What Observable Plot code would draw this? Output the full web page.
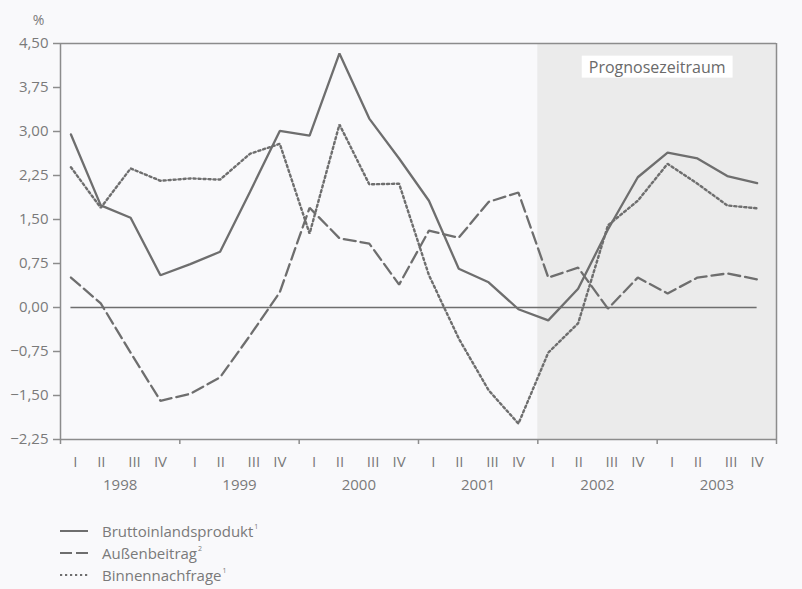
<!DOCTYPE html>
<html>
<head>
<meta charset="utf-8">
<script src="https://cdn.jsdelivr.net/npm/d3@7"></script>
<script src="https://cdn.jsdelivr.net/npm/@observablehq/plot@0.6"></script>
<style>
  html, body { margin: 0; padding: 0; background: #f9f9fb; }
  body { width: 802px; height: 589px; overflow: hidden; font-family: "Open Sans", sans-serif; color: #7a7a7a; }
  #legend { margin-left: 60px; margin-top: 20px; }
  .row { display: flex; align-items: center; height: 22px; font-size: 15px; }
  .row svg { margin-right: 14px; }
  .row sup { font-size: 7px; vertical-align: 8px; margin-left: 1px; }
</style>
</head>
<body>
<div id="chart"></div>
<div id="legend"></div>
<script>
// ---------- data ----------
const quarters = ["I", "II", "III", "IV"];
const years = ["1998", "1999", "2000", "2001", "2002", "2003"];
const seriesNames = ["Bruttoinlandsprodukt", "Außenbeitrag", "Binnennachfrage"];
const footnotes = ["1", "2", "1"];
const bip    = [2.95, 1.74, 1.53, 0.55, 0.74, 0.95, 1.97, 3.01, 2.93, 4.33, 3.22, 2.54, 1.82, 0.66, 0.43, -0.03, -0.22, 0.32, 1.33, 2.22, 2.64, 2.54, 2.24, 2.12];
const aussen = [0.51, 0.07, -0.77, -1.59, -1.47, -1.19, -0.48, 0.26, 1.70, 1.18, 1.09, 0.39, 1.31, 1.19, 1.80, 1.96, 0.51, 0.68, -0.02, 0.51, 0.24, 0.51, 0.58, 0.48];
const binnen = [2.39, 1.70, 2.37, 2.16, 2.20, 2.18, 2.62, 2.79, 1.26, 3.12, 2.10, 2.11, 0.55, -0.53, -1.41, -1.98, -0.77, -0.27, 1.40, 1.82, 2.45, 2.11, 1.74, 1.69];
const yTicks = [-2.25, -1.5, -0.75, 0, 0.75, 1.5, 2.25, 3, 3.75, 4.5];
const forecastStartYear = "2002";
const forecastLabel = "Prognosezeitraum";
const unitLabel = "%";

// ---------- layout / style ----------
const lineColor = "#6e6e6e";
const axisColor = "#8c8c8c";
const textColor = "#7a7a7a";
const pointOffset = 0.35;               // point position within a quarter slot
const qLabelPos = [0.5, 1.37, 2.48, 3.35]; // label position within a year (quarter units)
const dashes = ["none", "12,5", "2.2,2.8"];
const widths = [2.3, 2.3, 2.4];

const nQ = years.length * quarters.length;
const yMin = yTicks[0], yMax = yTicks[yTicks.length - 1];
const fmt = d => d3.format(".2f")(d).replace(".", ",");

const seriesValues = [bip, aussen, binnen];
const rows = [];
seriesValues.forEach((vals, s) => vals.forEach((v, i) => rows.push({series: seriesNames[s], i, value: v})));

const quarterRows = [];
years.forEach((y, yi) => quarters.forEach((q, qi) => quarterRows.push({year: y, yi, q, qi})));

const fStart = years.indexOf(forecastStartYear) * 4;

const plot = Plot.plot({
  width: 802,
  height: 500,
  marginLeft: 60,
  marginRight: 26,
  marginTop: 43,
  marginBottom: 61,
  style: {fontFamily: "Open Sans", fontSize: "15px", color: textColor, background: "transparent"},
  x: {type: "linear", domain: [0, nQ], axis: null},
  y: {domain: [yMin, yMax], axis: null},
  marks: [
    // forecast shading
    Plot.rect([{x1: fStart, x2: nQ}], {x1: "x1", x2: "x2", y1: yMin, y2: yMax, fill: "#ebebeb"}),
    // frame
    Plot.ruleY([yMax], {stroke: axisColor, strokeWidth: 1.5}),
    Plot.ruleY([yMin], {stroke: axisColor, strokeWidth: 1.5}),
    Plot.ruleX([0], {stroke: axisColor, strokeWidth: 1.5}),
    Plot.ruleX([nQ], {stroke: axisColor, strokeWidth: 1.5}),
    // zero line across data range
    Plot.ruleY([0], {x1: pointOffset, x2: nQ - 1 + pointOffset, stroke: lineColor, strokeWidth: 1.5}),
    // y axis
    Plot.axisY(yTicks, {tickFormat: fmt, tickSize: 7, tickPadding: 5, stroke: axisColor, strokeWidth: 1.5, fill: textColor, label: null}),
    // x axis year ticks
    Plot.axisX(d3.range(0, nQ + 1, 4), {tickSize: 5, tickFormat: () => "", stroke: axisColor, strokeWidth: 1.5, label: null}),
    // quarter labels
    Plot.text(quarterRows, {x: d => d.yi * 4 + qLabelPos[d.qi], y: yMin, dy: 23, text: "q", fill: textColor}),
    // year labels
    Plot.text(years, {x: (d, i) => i * 4 + 2, y: yMin, dy: 46, text: d => d, fill: textColor}),
    // unit label
    Plot.text([unitLabel], {x: 0, y: yMax, dx: -22, dy: -23, text: d => d, fill: textColor, fontSize: 14}),
    // forecast label
    Plot.text([forecastLabel], {x: (fStart + nQ) / 2, frameAnchor: "top", lineAnchor: "middle", dy: 24, text: d => d, fill: "#6a6a6a", fontSize: 16}),
    // series lines
    ...seriesNames.map((name, s) =>
      Plot.line(rows.filter(r => r.series === name), {
        x: d => d.i + pointOffset, y: "value",
        stroke: lineColor, strokeWidth: widths[s], strokeDasharray: dashes[s], strokeLinejoin: "miter"
      })
    )
  ]
});

document.getElementById("chart").appendChild(plot);

// white box behind forecast label
const t = Array.from(plot.querySelectorAll("text")).find(el => el.textContent === forecastLabel);
if (t) {
  const bb = t.getBBox();
  const rect = document.createElementNS("http://www.w3.org/2000/svg", "rect");
  rect.setAttribute("x", bb.x - 7);
  rect.setAttribute("y", bb.y);
  rect.setAttribute("width", bb.width + 14);
  rect.setAttribute("height", bb.height);
  rect.setAttribute("fill", "#ffffff");
  rect.setAttribute("stroke", "none");
  const tr = t.getAttribute("transform");
  if (tr) rect.setAttribute("transform", tr);
  t.parentNode.insertBefore(rect, t);
}

// legend
const legend = document.getElementById("legend");
seriesNames.forEach((name, s) => {
  const row = document.createElement("div");
  row.className = "row";
  const da = dashes[s] === "none" ? "" : (s === 1 ? "12,4" : "2.2,2.8");
  row.innerHTML = `<svg width="28" height="6"><line x1="0" x2="28" y1="3" y2="3" stroke="${lineColor}" stroke-width="2" stroke-dasharray="${da}"/></svg><span>${name}<sup>${footnotes[s]}</sup></span>`;
  legend.appendChild(row);
});
</script>
</body>
</html>
